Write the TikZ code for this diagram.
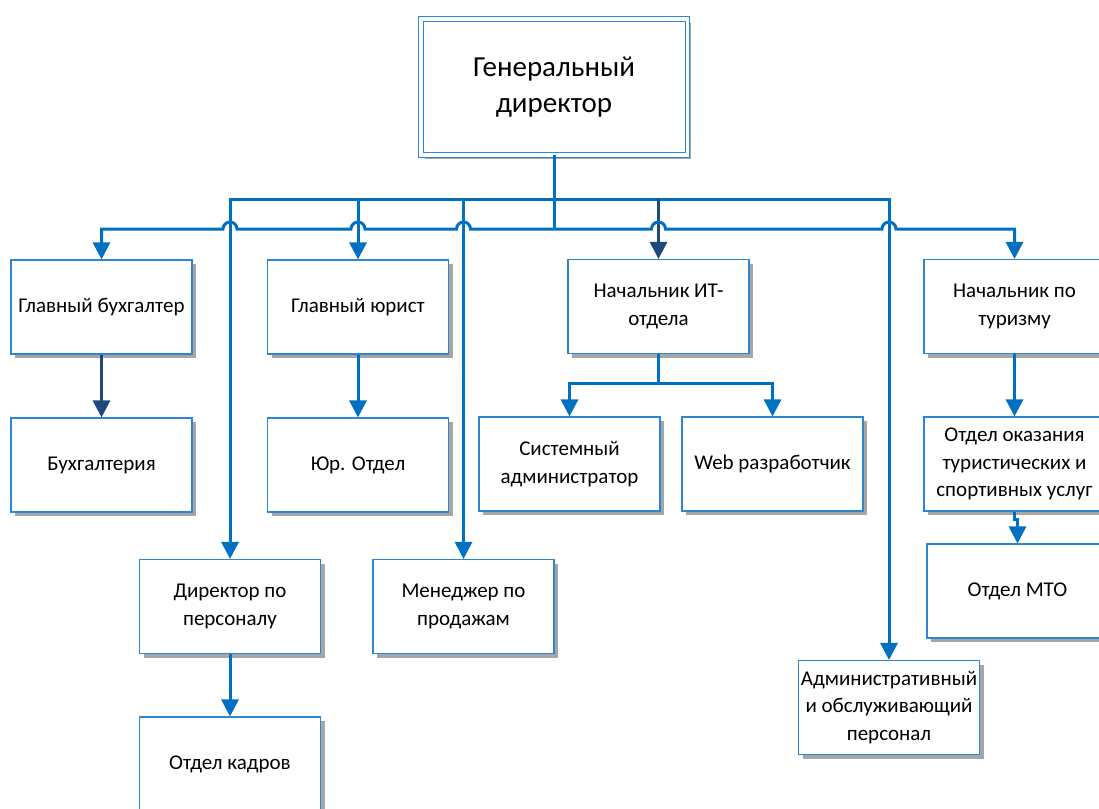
\documentclass[tikz,border=0pt]{standalone}
\usepackage{fontspec}
\setmainfont{Carlito}
\usetikzlibrary{arrows.meta,shadows,calc}
\definecolor{linkblue}{RGB}{0,112,192}
\definecolor{boxblue}{RGB}{46,134,210}
\definecolor{navy}{RGB}{31,73,125}
\definecolor{shade}{RGB}{166,166,166}
\begin{document}
\begin{tikzpicture}[x=1pt,y=1pt,
  box/.style={draw=boxblue, line width=1.1pt, fill=white,
    minimum width=181pt, minimum height=94pt, inner sep=1pt, align=center,
    font=\fontsize{21}{27.5}\selectfont,
    drop shadow={shadow xshift=4pt, shadow yshift=-4pt, fill=shade, opacity=1}},
  conn/.style={draw=linkblue, line width=3pt},
  darkconn/.style={draw=navy, line width=3pt},
  tip/.style={-{Triangle[width=17pt,length=17pt]}},
  tips/.style={{Triangle[width=17pt,length=17pt]}-{Triangle[width=17pt,length=17pt]}},
  jump/.style={radius=7pt}
  ]
\useasboundingbox (0,0) rectangle (1099,-808);

% head of the company
\node[box, double=white, double distance=3.5pt, line width=1pt,
  minimum width=266.5pt, minimum height=135.5pt,
  font=\fontsize{29}{36}\selectfont] (gen) at (554,-87) {Генеральный\\директор};

% first level
\node[box] (gb)  at (101.5,-307)  {Главный бухгалтер};
\node[box] (jur) at (358,-307)    {Главный юрист};
\node[box] (it)  at (658.5,-306.5){Начальник ИТ-\\отдела};
\node[box] (tur) at (1014.5,-306.5){Начальник по\\туризму};

% second level
\node[box] (bux) at (101.5,-465)  {Бухгалтерия};
\node[box] (yur) at (358,-465)    {Юр. Отдел};
\node[box] (sys) at (569.5,-464)  {Системный\\администратор};
\node[box] (web) at (772.5,-464)  {Web разработчик};
\node[box] (otd) at (1014.5,-464) {Отдел оказания\\туристических и\\спортивных услуг};

% lower boxes
\node[box] (dir) at (230,-606.5)  {Директор по\\персоналу};
\node[box] (men) at (463.5,-606.5){Менеджер по\\продажам};
\node[box] (mto) at (1017.5,-591) {Отдел МТО};
\node[box] (adm) at (889,-707.5)  {Административный\\и обслуживающий\\персонал};
\node[box] (kadr) at (230,-764)   {Отдел кадров};

% bus levels
\coordinate (ub) at (554,-199);
\coordinate (lb) at (554,-229);

% trunk from the director down to the lower bus
\draw[conn] (gen.south) -- (lb);

% upper bus with its drops
\draw[conn, tips, line join=miter] (dir.north) |- (ub) -| (adm.north);
\draw[conn, tip] (jur.north |- ub) -- (jur.north);
\draw[conn, tip] (men.north |- ub) -- (men.north);
\draw[darkconn, tip] (it.north |- ub) -- (it.north);

% lower bus, hopping over the drops
\draw[conn, tips, line join=miter] (gb.north) -- (gb.north |- lb)
  -- ($(dir.north |- lb)+(-7,0)$) arc[start angle=180, end angle=0, jump]
  -- ($(jur.north |- lb)+(-7,0)$) arc[start angle=180, end angle=0, jump]
  -- ($(men.north |- lb)+(-7,0)$) arc[start angle=180, end angle=0, jump]
  -- ($(it.north  |- lb)+(-7,0)$) arc[start angle=180, end angle=0, jump]
  -- ($(adm.north |- lb)+(-7,0)$) arc[start angle=180, end angle=0, jump]
  -- (tur.north |- lb) -- (tur.north);

% department links
\draw[darkconn, tip] (gb.south) -- (bux.north);
\draw[conn, tip] (jur.south) -- (yur.north);
\draw[conn, tip] (dir.south) -- (kadr.north);
\draw[conn] (it.south) -- ++(0,-29) coordinate (itb);
\draw[conn, tips, line join=miter] (sys.north) |- (itb) -| (web.north);
\draw[conn, tip] (tur.south) -- (otd.north);
\draw[conn, tip] (otd.south) -- ++(0,-8) -| (mto.north);
\end{tikzpicture}
\end{document}
